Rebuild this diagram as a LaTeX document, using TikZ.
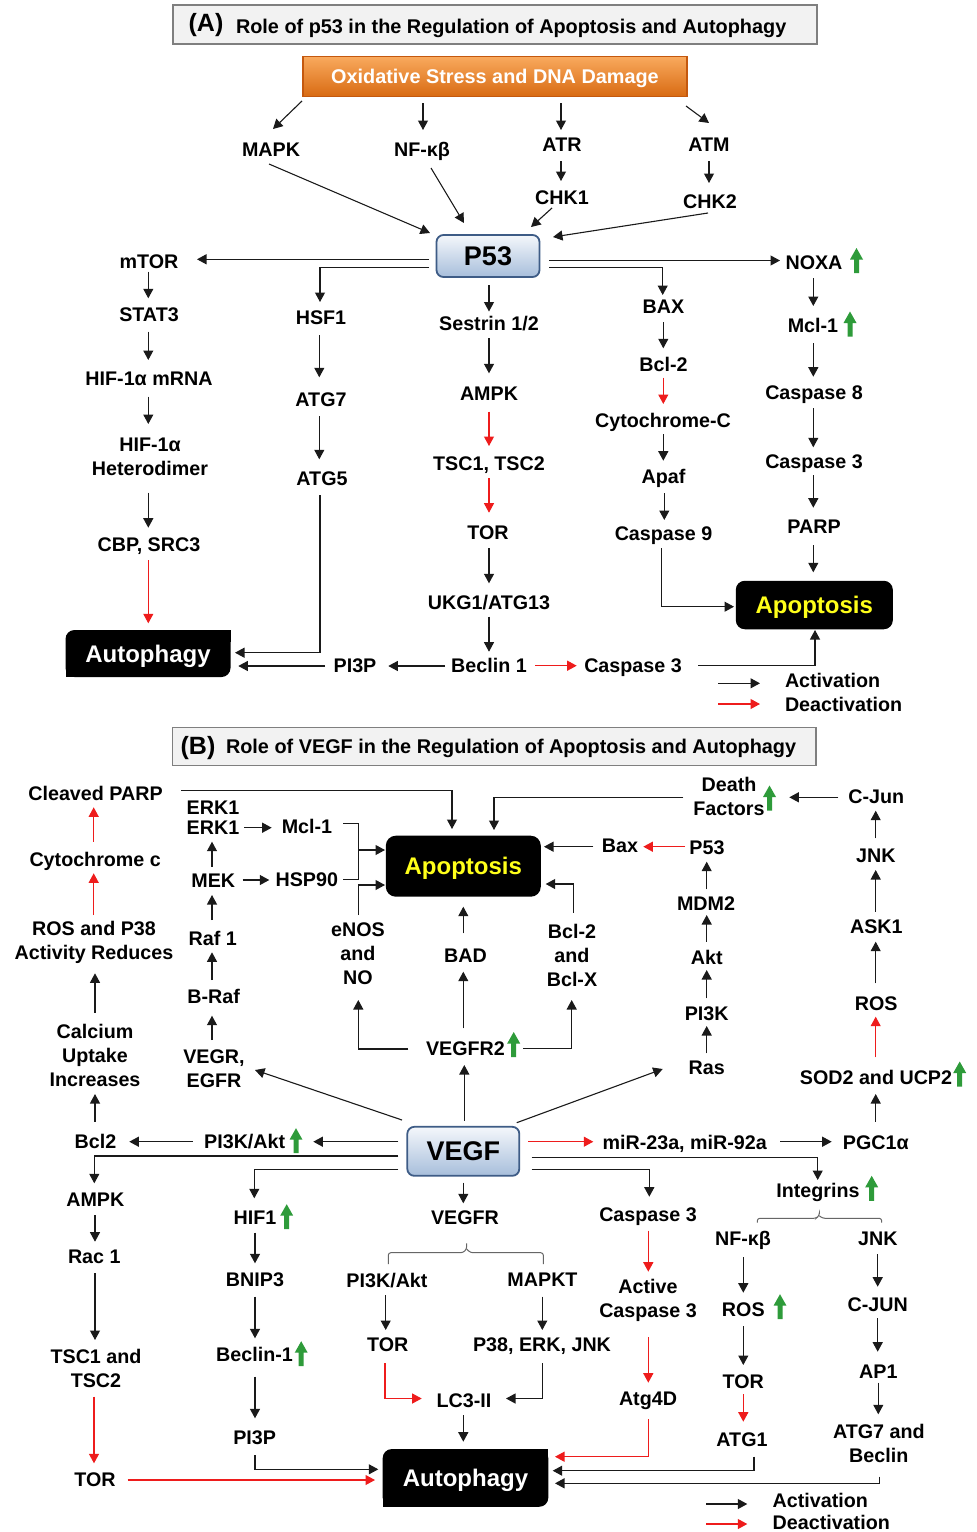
\documentclass[tikz,border=0pt]{standalone}
\usepackage{fontspec}
\setmainfont{Liberation Sans}
\usetikzlibrary{arrows.meta}

\definecolor{titfill}{HTML}{F2F2F2}
\definecolor{titedge}{HTML}{7F7F7F}
\definecolor{oxitop}{HTML}{F9AA5E}
\definecolor{oximid}{HTML}{F28C2E}
\definecolor{oxibot}{HTML}{D86A12}
\definecolor{oxiedge}{HTML}{C4580E}
\definecolor{hubtop}{HTML}{F4F7FB}
\definecolor{hubmid}{HTML}{DCE6F2}
\definecolor{hubbot}{HTML}{A7BEDB}
\definecolor{hubedge}{HTML}{3E5C86}
\definecolor{upgreen}{HTML}{2E9B3A}
\definecolor{inhib}{HTML}{EE1C1C}
\definecolor{apoyel}{HTML}{FFFF1A}
\definecolor{lncol}{HTML}{1A1A1A}

\newcommand\lblfont{\fontsize{19.7}{24}\selectfont\bfseries}
\newcommand\bigfont{\fontsize{24}{28}\selectfont\bfseries}
\newcommand\hubfont{\fontsize{27}{30}\selectfont\bfseries}
\newcommand\titfont{\fontsize{19.85}{24}\selectfont\bfseries}
\newcommand\panfont{\fontsize{25}{28}\selectfont\bfseries}

\tikzset{
  lab/.style={font=\lblfont, inner sep=0pt, outer sep=0pt, text height=14.1pt, text depth=0pt},
  mlab/.style={font=\lblfont, inner sep=0pt, outer sep=0pt, align=center},
  ln/.style={draw=lncol, line width=1.1pt},
  ar/.style={ln, -{Triangle[length=9.5pt,width=10pt]}},
  rar/.style={ar, draw=inhib},
  brc/.style={draw=black!60, line width=1pt, rounded corners=2.5pt},
  titbox/.style={draw=titedge, line width=1.5pt, fill=titfill, inner sep=0pt, outer sep=0pt},
  oxibox/.style={draw=oxiedge, line width=1.2pt, top color=oxitop, middle color=oximid, bottom color=oxibot,
    text=white, font=\titfont, inner sep=0pt, outer sep=0pt, text height=14.1pt, text depth=0pt},
  hub/.style={draw=hubedge, line width=1.8pt, rounded corners=7pt, top color=hubtop, middle color=hubmid,
    bottom color=hubbot, font=\hubfont, inner sep=0pt, outer sep=0pt, text height=19.3pt, text depth=0pt},
  autobox/.style={fill=black, rounded corners=9pt, text=white, font=\bigfont, inner sep=0pt, outer sep=0pt,
    text height=17.2pt, text depth=0pt},
  apobox/.style={autobox, text=apoyel},
  upg/.pic={\fill[upgreen] (-2.5,12.5) -- (-2.5,-1) -- (-6.5,-1) -- (0,-12.5) -- (6.5,-1) -- (2.5,-1) -- (2.5,12.5) -- cycle;}
}

\begin{document}
\begin{tikzpicture}[x=1pt,y=-1pt]
\fill[white] (0,0) rectangle (977,1532);
\path[use as bounding box] (0,0) rectangle (977,1532);

% ================= Panel A: p53 =================
\node[titbox, minimum width=644pt, minimum height=39pt] (titA) at (495,24.5) {};
\node[font=\panfont, inner sep=0pt] (titAl) at (206,25) {(A)};
\node[lab, font=\titfont, anchor=west] (titAt) at (236,26.3) {Role of p53 in the Regulation of Apoptosis and Autophagy};

\node[oxibox, minimum width=384pt, minimum height=40.5pt] (oxi) at (495,76.5) {Oxidative Stress and DNA Damage};

\node[lab] (mapk) at (271,149) {MAPK};
\node[lab] (nfkb) at (422,149) {NF-κβ};
\node[lab] (atr) at (562,144) {ATR};
\node[lab] (atm) at (709,144) {ATM};
\node[lab] (chk1) at (562,197) {CHK1};
\node[lab] (chk2) at (710,201) {CHK2};
\node[hub, minimum width=103pt, minimum height=42pt] (p53) at (488,256) {P53};

\node[lab] (mtor) at (149,261.5) {mTOR};
\node[lab] (stat3) at (149,314) {STAT3};
\node[lab] (hifm) at (149,378) {HIF-1α mRNA};
\node[mlab] (hifh) at (150,457) {HIF-1α\\Heterodimer};
\node[lab] (cbp) at (149,544) {CBP, SRC3};
\node[autobox, minimum width=165pt, minimum height=47pt] (autoA) at (148,653.5) {Autophagy};
\fill[black] (autoA.north east) rectangle ++(-12,12);
\fill[black] (autoA.south west) rectangle ++(12,-12);

\node[lab] (hsf1) at (321,317.5) {HSF1};
\node[lab] (atg7) at (321,399) {ATG7};
\node[lab] (atg5) at (322,478) {ATG5};
\node[lab] (pi3pA) at (355,665.5) {PI3P};

\node[lab] (sestrin) at (489,323) {Sestrin 1/2};
\node[lab] (ampkA) at (489,393.5) {AMPK};
\node[lab] (tsc) at (489,463) {TSC1, TSC2};
\node[lab] (torA) at (488,532) {TOR};
\node[lab] (ukg) at (489,602.5) {UKG1/ATG13};
\node[lab] (beclinA) at (489,665.5) {Beclin 1};
\node[lab] (casp3A) at (633,665.7) {Caspase 3};

\node[lab] (bax) at (663.5,306.5) {BAX};
\node[lab] (bcl2A) at (663.5,364) {Bcl-2};
\node[lab] (cytc) at (663,420.5) {Cytochrome-C};
\node[lab] (apaf) at (663.5,476.5) {Apaf};
\node[lab] (casp9) at (663.5,533) {Caspase 9};

\node[lab] (noxa) at (814,262.5) {NOXA};
\node[lab] (mcl1A) at (813,325.5) {Mcl-1};
\node[lab] (casp8) at (814,392) {Caspase 8};
\node[lab] (casp3Ar) at (814,461.7) {Caspase 3};
\node[lab] (parp) at (814,526) {PARP};
\node[apobox, minimum width=157pt, minimum height=48.5pt] (apoA) at (814.3,605) {Apoptosis};

\pic at (856.5,260.5) {upg};
\pic at (850,324) {upg};

\draw[ar] ([shift={(-193,24.5)}]oxi.center) -- ([shift={(2,-20)}]mapk.center);
\draw[ar] ([shift={(-72,26.5)}]oxi.center) -- ([shift={(1,-19)}]nfkb.center);
\draw[ar] ([shift={(66,26.5)}]oxi.center) -- ([shift={(-1,-14)}]atr.center);
\draw[ar] ([shift={(191,29.5)}]oxi.center) -- ([shift={(0,-21)}]atm.center);
\draw[ar] ([shift={(-1,17)}]atr.center) -- ([shift={(-1,-16)}]chk1.center);
\draw[ar] ([shift={(0,17)}]atm.center) -- ([shift={(-1,-18)}]chk2.center);
\draw[ar] ([shift={(-2,15)}]mapk.center) -- ([shift={(-58,-23)}]p53.center);
\draw[ar] ([shift={(9,19)}]nfkb.center) -- ([shift={(-24,-33)}]p53.center);
\draw[ar] ([shift={(-10,11)}]chk1.center) -- ([shift={(43,-29)}]p53.center);
\draw[ar] ([shift={(-2,12)}]chk2.center) -- ([shift={(65,-19)}]p53.center);
\draw[ar] ([shift={(-59,3.3)}]p53.center) -- ([shift={(48,-2.2)}]mtor.center);
\draw[ar] ([shift={(-59,11.5)}]p53.center) -| ([shift={(-1,-15.5)}]hsf1.center);
\draw[ar] ([shift={(1,29)}]p53.center) -- ([shift={(0,-11.5)}]sestrin.center);
\draw[ar] ([shift={(61,4.5)}]p53.center) -- ([shift={(-34,-2)}]noxa.center);
\draw[ar] ([shift={(61,11.3)}]p53.center) -| ([shift={(-0.8,-11.5)}]bax.center);

\draw[ar] ([shift={(-0.7,10.2)}]mtor.center) -- ([shift={(-0.7,-15.7)}]stat3.center);
\draw[ar] ([shift={(-0.7,17.7)}]stat3.center) -- ([shift={(-0.7,-18)}]hifm.center);
\draw[ar] ([shift={(-0.7,18.7)}]hifm.center) -- ([shift={(-1.7,-33)}]hifh.center);
\draw[ar] ([shift={(-1.7,35.7)}]hifh.center) -- ([shift={(-0.7,-16.3)}]cbp.center);
\draw[rar] ([shift={(-0.7,16)}]cbp.center) -- ([shift={(0.3,-30.2)}]autoA.center);
\draw[ar] ([shift={(-1.7,17.5)}]hsf1.center) -- ([shift={(-1.7,-21.7)}]atg7.center);
\draw[ar] ([shift={(-1.7,17)}]atg7.center) -- ([shift={(-2.7,-18.7)}]atg5.center);
\draw[ar] ([shift={(-2,17)}]atg5.center) |- ([shift={(87,-0.8)}]autoA.center);
\draw[ar] ([shift={(-30,0.5)}]pi3pA.center) -- ([shift={(90.3,12.5)}]autoA.center);
\draw[ar] ([shift={(-44,0.5)}]beclinA.center) -- ([shift={(33.3,0.5)}]pi3pA.center);
\draw[ar] ([shift={(0,15.3)}]sestrin.center) -- ([shift={(0,-20.2)}]ampkA.center);
\draw[rar] ([shift={(0,18.2)}]ampkA.center) -- ([shift={(0,-17)}]tsc.center);
\draw[rar] ([shift={(0,15.3)}]tsc.center) -- ([shift={(1,-19.3)}]torA.center);
\draw[ar] ([shift={(1,16.3)}]torA.center) -- ([shift={(0,-19.2)}]ukg.center);
\draw[ar] ([shift={(0,14.2)}]ukg.center) -- ([shift={(0,-13.8)}]beclinA.center);
\draw[rar] ([shift={(46,0.2)}]beclinA.center) -- ([shift={(-56.3,0)}]casp3A.center);
\draw[ar] ([shift={(65.3,0)}]casp3A.center) -| ([shift={(0.7,25)}]apoA.center);
\draw[ar] ([shift={(-0.2,15.8)}]bax.center) -- ([shift={(-0.2,-15.7)}]bcl2A.center);
\draw[rar] ([shift={(-0.2,13.7)}]bcl2A.center) -- ([shift={(0.3,-16.5)}]cytc.center);
\draw[ar] ([shift={(0.3,13.5)}]cytc.center) -- ([shift={(-0.2,-15.8)}]apaf.center);
\draw[ar] ([shift={(0.8,16.8)}]apaf.center) -- ([shift={(0.8,-13)}]casp9.center);
\draw[ar] ([shift={(-1.8,15.3)}]casp9.center) |- ([shift={(-80.3,1.7)}]apoA.center);
\draw[ar] ([shift={(-0.7,15.8)}]noxa.center) -- ([shift={(0.3,-19.5)}]mcl1A.center);
\draw[ar] ([shift={(0.3,17.8)}]mcl1A.center) -- ([shift={(-0.7,-15.3)}]casp8.center);
\draw[ar] ([shift={(-0.7,16.3)}]casp8.center) -- ([shift={(-0.7,-14.4)}]casp3Ar.center);
\draw[ar] ([shift={(-0.7,13.3)}]casp3Ar.center) -- ([shift={(-0.7,-18.3)}]parp.center);
\draw[ar] ([shift={(-0.7,19)}]parp.center) -- ([shift={(-1,-32.7)}]apoA.center);

\node[lab, anchor=west] (legA1) at (785,680.5) {Activation};
\node[lab, anchor=west] (legA2) at (785,704) {Deactivation};
\draw[ar] ([shift={(-66.7,2.8)}]legA1.west) -- ([shift={(-25,2.8)}]legA1.west);
\draw[rar] ([shift={(-66.7,0)}]legA2.west) -- ([shift={(-25,0)}]legA2.west);

% ================= Panel B: VEGF =================
\node[titbox, minimum width=643.7pt, minimum height=38.4pt] (titB) at (494.2,746.5) {};
\node[font=\panfont, inner sep=0pt] (titBl) at (198,748.5) {(B)};
\node[lab, font=\titfont, anchor=west] (titBt) at (226,746) {Role of VEGF in the Regulation of Apoptosis and Autophagy};

\node[hub, minimum width=112pt, minimum height=49pt] (vegf) at (463.3,1151.3) {VEGF};
\node[apobox, minimum width=155pt, minimum height=61pt, rounded corners=10pt] (apoB) at (463.3,866.2) {Apoptosis};
\node[autobox, minimum width=165.6pt, minimum height=57.7pt] (autoB) at (465.5,1477.9) {Autophagy};
\fill[black] (autoB.north east) rectangle ++(-12,12);
\fill[black] (autoB.south west) rectangle ++(12,-12);

% left upper branch
\node[lab] (cparp) at (95.5,793) {Cleaved PARP};
\node[lab] (cytcB) at (95.2,859.5) {Cytochrome c};
\node[mlab] (rosp) at (94,942.6) {ROS and P38\\Activity Reduces};
\node[mlab] (calc) at (95,1055.3) {Calcium\\Uptake\\Increases};
\node[lab] (bcl2B) at (95.5,1141.7) {Bcl2};
\node[lab] (pi3kakt) at (244.7,1141.7) {PI3K/Akt};

\node[lab] (erk1a) at (213,807) {ERK1};
\node[lab] (erk1b) at (213,827) {ERK1};
\node[lab] (mcl1B) at (307,826) {Mcl-1};
\node[lab] (mek) at (213.3,880) {MEK};
\node[lab] (hsp) at (306.8,879.2) {HSP90};
\node[lab] (raf) at (212.7,938) {Raf 1};
\node[lab] (braf) at (213.7,996.7) {B-Raf};
\node[mlab] (vegr) at (214,1068.5) {VEGR,\\EGFR};

\node[mlab] (enos) at (358,954.2) {eNOS\\and\\NO};
\node[lab] (bad) at (465.5,955.2) {BAD};
\node[mlab] (bcl2x) at (572,955) {Bcl-2\\and\\Bcl-X};
\node[lab] (vegfr2) at (465.5,1048.3) {VEGFR2};

\node[lab] (baxB) at (620,845.5) {Bax};
\node[lab] (p53B) at (707,847.8) {P53};
\node[lab] (mdm2) at (706,903.2) {MDM2};
\node[lab] (akt) at (706.7,957.5) {Akt};
\node[lab] (pi3k) at (706.7,1013.3) {PI3K};
\node[lab] (ras) at (706.7,1067.5) {Ras};

\node[mlab] (df) at (729,796.2) {Death\\Factors};
\node[lab] (cjun) at (876.2,796.5) {C-Jun};
\node[lab] (jnk) at (875.8,855) {JNK};
\node[lab] (ask1) at (876.3,926.7) {ASK1};
\node[lab] (rosB) at (876.2,1003.5) {ROS};
\node[lab] (sod) at (876,1077.8) {SOD2 and UCP2};
\node[lab] (mir) at (684.7,1142.5) {miR-23a, miR-92a};
\node[lab] (pgc) at (875.8,1142) {PGC1α};

% lower branches
\node[lab] (ampkB) at (95.3,1199.2) {AMPK};
\node[lab] (rac) at (94.3,1256.7) {Rac 1};
\node[mlab] (tscB) at (96,1368.8) {TSC1 and\\TSC2};
\node[lab] (torB) at (95,1479.2) {TOR};
\node[lab] (hif1) at (255,1217.5) {HIF1};
\node[lab] (bnip3) at (255,1279.8) {BNIP3};
\node[lab] (beclinB) at (254.5,1354.8) {Beclin-1};
\node[lab] (pi3pB) at (254.7,1437.5) {PI3P};
\node[lab] (vegfr) at (465,1217.5) {VEGFR};
\node[lab] (pi3kaktB) at (387,1280) {PI3K/Akt};
\node[lab] (mapkt) at (542.5,1279.5) {MAPKT};
\node[lab] (torBm) at (387.8,1344.8) {TOR};
\node[lab] (p38) at (542,1344.2) {P38, ERK, JNK};
\node[lab] (lc3) at (464,1400.8) {LC3-II};
\node[lab] (casp3B) at (648,1214.2) {Caspase 3};
\node[mlab] (active) at (648,1300) {Active\\Caspase 3};
\node[lab] (atg4d) at (648,1398.2) {Atg4D};
\node[lab] (integ) at (818,1190.2) {Integrins};
\node[lab] (nfkbB) at (743,1238.8) {NF-κβ};
\node[lab] (jnkB) at (877.8,1238.8) {JNK};
\node[lab] (rosB2) at (743.3,1309.2) {ROS};
\node[lab] (torBr) at (743.3,1381.7) {TOR};
\node[lab] (atg1) at (742,1439.2) {ATG1};
\node[lab] (cjunB) at (877.7,1304.2) {C-JUN};
\node[lab] (ap1) at (878.3,1371.2) {AP1};
\node[mlab] (atg7b) at (878.8,1443.8) {ATG7 and\\Beclin};

\pic at (769.5,798) {upg};
\pic at (513.7,1044.5) {upg};
\pic at (959.7,1074) {upg};
\pic at (296,1140.7) {upg};
\pic at (286.7,1216.7) {upg};
\pic at (301.2,1353.7) {upg};
\pic at (871.7,1188.3) {upg};
\pic at (780,1306.7) {upg};

% connectors into apoptosis
\draw[ar] ([shift={(85.5,-2.3)}]cparp.center) -| ([shift={(-11.3,-37.2)}]apoB.center);
\draw[ar] ([shift={(-45.7,1.5)}]df.center) -| ([shift={(30.7,-36.2)}]apoB.center);
\draw[ar] ([shift={(31.3,0.7)}]erk1b.center) -- ([shift={(-35.3,1.7)}]mcl1B.center);
\coordinate (jmh) at (358.3,850);
\draw[ln] ([shift={(36.3,-2.7)}]mcl1B.center) -| (jmh);
\draw[ln] ([shift={(36.5,0.1)}]hsp.center) -| (jmh);
\draw[ar] (jmh) -- ([shift={(-78.3,-16.2)}]apoB.center);
\draw[ar] ([shift={(0.3,-39.2)}]enos.center) |- ([shift={(-78.3,18.8)}]apoB.center);
\draw[ar] ([shift={(29.4,0)}]mek.center) -- ([shift={(-37.5,0.8)}]hsp.center);
\draw[ar] ([shift={(-1.3,-13.3)}]mek.center) -- ([shift={(-1,14.7)}]erk1b.center);
\draw[ar] ([shift={(-0.7,-18)}]raf.center) -- ([shift={(-1.3,15)}]mek.center);
\draw[ar] ([shift={(-1.7,-16.7)}]braf.center) -- ([shift={(-0.7,14.3)}]raf.center);
\draw[ar] ([shift={(-2,-28.5)}]vegr.center) -- ([shift={(-1.7,19)}]braf.center);
\draw[ar] ([shift={(-61.3,-31.3)}]vegf.center) -- ([shift={(41,1.5)}]vegr.center);
\draw[rar] ([shift={(-1.5,-17.8)}]cytcB.center) -- ([shift={(-1.8,14.3)}]cparp.center);
\draw[rar] ([shift={(-0.3,-27.6)}]rosp.center) -- ([shift={(-1.5,13.8)}]cytcB.center);
\draw[ar] ([shift={(0,-42.6)}]calc.center) -- ([shift={(1,30.7)}]rosp.center);
\draw[ar] ([shift={(-0.5,-20)}]bcl2B.center) -- ([shift={(0,38.7)}]calc.center);
\draw[ar] ([shift={(-2.2,-21.9)}]bad.center) -- ([shift={(0,40.5)}]apoB.center);
\draw[ar] ([shift={(-2.2,-20)}]vegfr2.center) -- ([shift={(-2.2,16.5)}]bad.center);
\draw[ar] ([shift={(-57.2,0.7)}]vegfr2.center) -| ([shift={(0.3,45.8)}]enos.center);
\draw[ar] ([shift={(1,-30.6)}]vegf.center) -- ([shift={(-1.2,16.7)}]vegfr2.center);
\draw[ar] ([shift={(57.8,0)}]vegfr2.center) -| ([shift={(-0.3,45)}]bcl2x.center);
\draw[ar] ([shift={(1.3,-42.3)}]bcl2x.center) |- ([shift={(82.4,17.8)}]apoB.center);
\draw[ar] ([shift={(-26.7,1.2)}]baxB.center) -- ([shift={(80.7,-19.5)}]apoB.center);
\draw[rar] ([shift={(-22,-1.1)}]p53B.center) -- ([shift={(23.3,1.2)}]baxB.center);
\draw[ar] ([shift={(-37.9,0.8)}]cjun.center) -- ([shift={(60.3,1.1)}]df.center);
\draw[ar] ([shift={(-0.1,-16.7)}]jnk.center) -- ([shift={(-0.5,14.2)}]cjun.center);
\draw[ar] ([shift={(-0.6,-15)}]ask1.center) -- ([shift={(-0.1,15)}]jnk.center);
\draw[ar] ([shift={(-0.5,-20.2)}]rosB.center) -- ([shift={(-0.6,15)}]ask1.center);
\draw[rar] ([shift={(-0.3,-20.5)}]sod.center) -- ([shift={(-0.5,13.2)}]rosB.center);
\draw[ar] ([shift={(-0.1,-20.3)}]pgc.center) -- ([shift={(-0.3,16.2)}]sod.center);
\draw[ar] ([shift={(0.7,-13.9)}]mdm2.center) -- ([shift={(-0.3,13.9)}]p53B.center);
\draw[ar] ([shift={(0,-15.8)}]akt.center) -- ([shift={(0.7,11.8)}]mdm2.center);
\draw[ar] ([shift={(0,-15)}]pi3k.center) -- ([shift={(0,12.5)}]akt.center);
\draw[ar] ([shift={(0,-14.2)}]ras.center) -- ([shift={(0,12.7)}]pi3k.center);
\draw[ar] ([shift={(53.4,-28.6)}]vegf.center) -- ([shift={(-44,1.5)}]ras.center);

% VEGF side branches
\draw[ar] ([shift={(-65,-9.6)}]vegf.center) -- ([shift={(68.6,0)}]pi3kakt.center);
\draw[ar] ([shift={(-52,0)}]pi3kakt.center) -- ([shift={(33.8,0)}]bcl2B.center);
\draw[ar] ([shift={(-65,4.7)}]vegf.center) -| ([shift={(-1,-15.9)}]ampkB.center);
\draw[ar] ([shift={(-65,18)}]vegf.center) -| ([shift={(-0.7,-19.2)}]hif1.center);
\draw[rar] ([shift={(65,-9.6)}]vegf.center) -- ([shift={(-91.4,-0.8)}]mir.center);
\draw[ar] ([shift={(95.3,-0.8)}]mir.center) -- ([shift={(-44.1,-0.3)}]pgc.center);
\draw[ar] ([shift={(68.4,6)}]vegf.center) -| ([shift={(-0.3,-10.2)}]integ.center);
\draw[ar] ([shift={(68.4,18)}]vegf.center) -| ([shift={(1.3,-17.5)}]casp3B.center);
\draw[ar] ([shift={(0,31.4)}]vegf.center) -- ([shift={(-1.7,-14.2)}]vegfr.center);

% autophagy branches
\draw[ar] ([shift={(-0.3,15.8)}]ampkB.center) -- ([shift={(0.7,-15)}]rac.center);
\draw[ar] ([shift={(0.7,16.6)}]rac.center) -- ([shift={(-1,-28.8)}]tscB.center);
\draw[rar] ([shift={(-2,27.9)}]tscB.center) -- ([shift={(-1,-15.9)}]torB.center);
\draw[rar] ([shift={(32.7,0.8)}]torB.center) -- ([shift={(-90.5,2.1)}]autoB.center);
\draw[ar] ([shift={(0,15.2)}]hif1.center) -- ([shift={(0,-16.5)}]bnip3.center);
\draw[ar] ([shift={(0,16.9)}]bnip3.center) -- ([shift={(0.5,-16.5)}]beclinB.center);
\draw[ar] ([shift={(0.5,21.9)}]beclinB.center) -- ([shift={(0.3,-19.2)}]pi3pB.center);
\draw[ar] ([shift={(0.3,17.5)}]pi3pB.center) |- ([shift={(-87.2,-8.6)}]autoB.center);

\draw[brc] ([shift={(-76.7,46.5)}]vegfr.center) -- ([shift={(-76.7,35.2)}]vegfr.center)
  -- ([shift={(-2,35.2)}]vegfr.center) -- ([shift={(1.7,31.5)}]vegfr.center) -- ([shift={(1.7,25.8)}]vegfr.center);
\draw[brc] ([shift={(1.7,31.5)}]vegfr.center) -- ([shift={(5.4,35.2)}]vegfr.center)
  -- ([shift={(78.3,35.2)}]vegfr.center) -- ([shift={(78.3,46.5)}]vegfr.center);
\draw[ar] ([shift={(-1.3,15)}]pi3kaktB.center) -- ([shift={(-2.1,-14.8)}]torBm.center);
\draw[rar] ([shift={(-2.8,18.5)}]torBm.center) |- ([shift={(-42.3,-2.3)}]lc3.center);
\draw[ar] ([shift={(-0.2,17.2)}]mapkt.center) -- ([shift={(0.3,-14.2)}]p38.center);
\draw[ar] ([shift={(0.3,19.1)}]p38.center) |- ([shift={(42,-2.3)}]lc3.center);
\draw[ar] ([shift={(-0.7,14.2)}]lc3.center) -- ([shift={(-2.2,-36.2)}]autoB.center);

\draw[rar] ([shift={(0.3,16.5)}]casp3B.center) -- ([shift={(0.3,-28.3)}]active.center);
\draw[rar] ([shift={(0.3,37.3)}]active.center) -- ([shift={(0.3,-15.5)}]atg4d.center);
\draw[rar] ([shift={(0.3,21.1)}]atg4d.center) |- ([shift={(89.5,-21.2)}]autoB.center);

\draw[brc] ([shift={(-60.7,32.5)}]integ.center) -- ([shift={(-60.7,28.1)}]integ.center)
  -- ([shift={(-2,28.1)}]integ.center) -- ([shift={(1.3,25.5)}]integ.center) -- ([shift={(1.3,23.8)}]integ.center);
\draw[brc] ([shift={(1.3,25.5)}]integ.center) -- ([shift={(4.6,28.1)}]integ.center)
  -- ([shift={(63.7,28.1)}]integ.center) -- ([shift={(63.7,32.5)}]integ.center);
\draw[ar] ([shift={(0.3,18.5)}]nfkbB.center) -- ([shift={(0,-16.5)}]rosB2.center);
\draw[ar] ([shift={(0,16.8)}]rosB2.center) -- ([shift={(0,-16.7)}]torBr.center);
\draw[rar] ([shift={(0,12.3)}]torBr.center) -- ([shift={(1.3,-17.5)}]atg1.center);
\draw[ar] ([shift={(12,17.5)}]atg1.center) |- ([shift={(87.2,-7.2)}]autoB.center);
\draw[ar] ([shift={(-0.1,15.2)}]jnkB.center) -- ([shift={(0,-17.5)}]cjunB.center);
\draw[ar] ([shift={(0,14.1)}]cjunB.center) -- ([shift={(-0.6,-19.5)}]ap1.center);
\draw[ar] ([shift={(0,11.5)}]ap1.center) -- ([shift={(-0.5,-29.5)}]atg7b.center);
\draw[ar] ([shift={(0.5,32.9)}]atg7b.center) |- ([shift={(89.5,5.4)}]autoB.center);

\node[lab, anchor=west] (legB1) at (772.7,1500.8) {Activation};
\node[lab, anchor=west] (legB2) at (772.7,1522.5) {Deactivation};
\draw[ar] ([shift={(-66.7,3.2)}]legB1.west) -- ([shift={(-25.4,3.2)}]legB1.west);
\draw[rar] ([shift={(-66.7,1.5)}]legB2.west) -- ([shift={(-25.4,1.5)}]legB2.west);
\end{tikzpicture}
\end{document}
